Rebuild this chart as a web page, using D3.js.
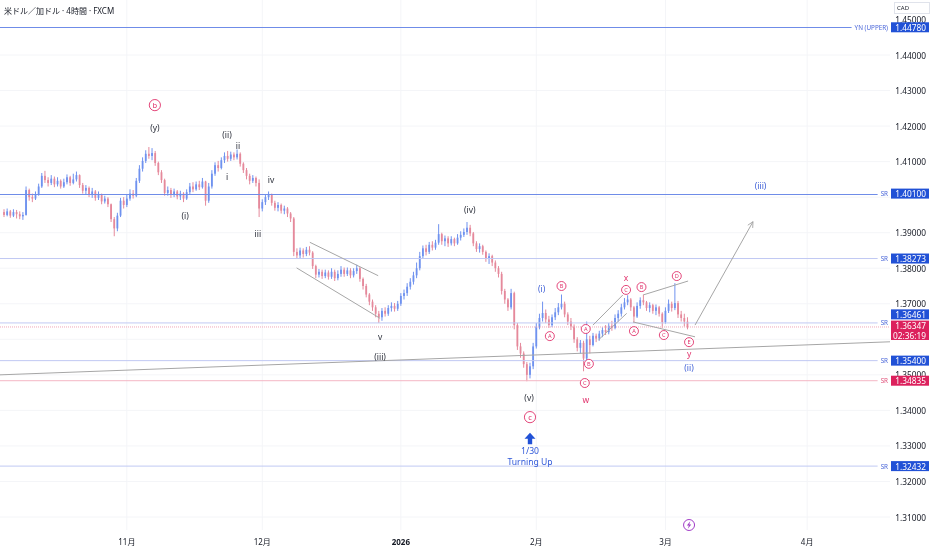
<!DOCTYPE html>
<html>
<head>
<meta charset="utf-8">
<script src="https://cdn.jsdelivr.net/npm/d3@7"></script>
<style>
  body { margin: 0; background: #fff; }
  svg { display: block; font-family: "Noto Sans", "Noto Sans CJK JP", sans-serif; will-change: transform; }
</style>
</head>
<body>
<svg id="chart"></svg>
<script>
// USD/CAD 4h, resampled to one candle per half trading day (bar index 0 = early Oct)
const firstOpen = 1.3958;
const closes = [
  1.3950,1.3960,1.3948,1.3958,1.3952,1.3946,1.3950,1.4020,1.4000,1.3996,
  1.4008,1.4030,1.4060,1.4048,1.4040,1.4052,1.4036,1.4046,1.4030,1.4042,
  1.4056,1.4040,1.4050,1.4062,1.4034,1.4018,1.4026,1.4008,1.4016,1.3998,
  1.4006,1.3988,1.3996,1.3980,1.3938,1.3912,1.3948,1.3990,1.3978,1.3996,
  1.4010,1.4004,1.4046,1.4080,1.4102,1.4122,1.4116,1.4124,1.4096,1.4070,
  1.4048,1.4012,1.4020,1.4006,1.4016,1.4002,1.4010,1.3996,1.4014,1.4030,
  1.4022,1.4036,1.4028,1.4044,1.3990,1.4030,1.4066,1.4090,1.4082,1.4104,
  1.4116,1.4108,1.4120,1.4112,1.4122,1.4094,1.4076,1.4060,1.4046,1.4054,
  1.4040,1.3968,1.3986,1.4000,1.4006,1.3984,1.3970,1.3978,1.3962,1.3968,
  1.3954,1.3940,1.3846,1.3836,1.3850,1.3840,1.3852,1.3844,1.3806,1.3782,
  1.3790,1.3778,1.3788,1.3776,1.3790,1.3772,1.3784,1.3796,1.3784,1.3794,
  1.3780,1.3792,1.3800,1.3770,1.3750,1.3726,1.3706,1.3690,1.3672,1.3662,
  1.3680,1.3672,1.3688,1.3694,1.3686,1.3700,1.3722,1.3730,1.3748,1.3762,
  1.3780,1.3800,1.3834,1.3856,1.3846,1.3866,1.3858,1.3872,1.3896,1.3876,
  1.3884,1.3870,1.3882,1.3870,1.3886,1.3894,1.3902,1.3914,1.3898,1.3870,
  1.3854,1.3862,1.3846,1.3826,1.3834,1.3816,1.3800,1.3784,1.3736,1.3712,
  1.3690,1.3730,1.3640,1.3580,1.3560,1.3530,1.3500,1.3524,1.3580,1.3636,
  1.3660,1.3674,1.3656,1.3640,1.3662,1.3676,1.3690,1.3700,1.3670,1.3650,
  1.3636,1.3600,1.3576,1.3590,1.3546,1.3600,1.3584,1.3610,1.3602,1.3616,
  1.3626,1.3620,1.3638,1.3632,1.3660,1.3672,1.3690,1.3704,1.3712,1.3690,
  1.3664,1.3694,1.3710,1.3704,1.3688,1.3696,1.3680,1.3690,1.3672,1.3648,
  1.3680,1.3700,1.3688,1.3702,1.3670,1.3660,1.3650,1.36347
];
const highs = [
  1.3966,1.3968,1.3964,1.3966,1.3964,1.3960,1.3958,1.4030,1.4024,1.4010,
  1.4016,1.4038,1.4068,1.4074,1.4056,1.4062,1.4058,1.4056,1.4050,1.4052,
  1.4064,1.4060,1.4066,1.4072,1.4064,1.4040,1.4034,1.4030,1.4026,1.4020,
  1.4016,1.4010,1.4004,1.4000,1.3982,1.3944,1.3956,1.3998,1.4000,1.4008,
  1.4022,1.4020,1.4054,1.4090,1.4112,1.4132,1.4141,1.4138,1.4130,1.4100,
  1.4076,1.4052,1.4030,1.4026,1.4024,1.4020,1.4018,1.4014,1.4022,1.4040,
  1.4042,1.4044,1.4046,1.4054,1.4046,1.4040,1.4076,1.4098,1.4102,1.4112,
  1.4126,1.4130,1.4128,1.4126,1.4134,1.4126,1.4098,1.4082,1.4066,1.4062,
  1.4058,1.4050,1.3994,1.4008,1.4016,1.4010,1.3990,1.3986,1.3982,1.3976,
  1.3972,1.3958,1.3944,1.3856,1.3858,1.3856,1.3860,1.3862,1.3848,1.3810,
  1.3798,1.3796,1.3796,1.3794,1.3800,1.3796,1.3794,1.3806,1.3802,1.3802,
  1.3800,1.3800,1.3810,1.3804,1.3774,1.3756,1.3730,1.3712,1.3696,1.3680,
  1.3688,1.3690,1.3696,1.3704,1.3702,1.3708,1.3730,1.3740,1.3758,1.3772,
  1.3790,1.3816,1.3846,1.3864,1.3866,1.3874,1.3876,1.3880,1.3924,1.3900,
  1.3892,1.3890,1.3890,1.3886,1.3896,1.3904,1.3912,1.3930,1.3922,1.3902,
  1.3876,1.3870,1.3866,1.3850,1.3842,1.3838,1.3822,1.3806,1.3790,1.3742,
  1.3716,1.3742,1.3734,1.3646,1.3590,1.3566,1.3536,1.3534,1.3590,1.3646,
  1.3672,1.3706,1.3684,1.3666,1.3670,1.3688,1.3702,1.3726,1.3706,1.3676,
  1.3660,1.3642,1.3606,1.3598,1.3596,1.3650,1.3610,1.3618,1.3616,1.3624,
  1.3634,1.3640,1.3646,1.3652,1.3670,1.3682,1.3700,1.3716,1.3724,1.3716,
  1.3694,1.3704,1.3718,1.3726,1.3708,1.3704,1.3700,1.3698,1.3694,1.3676,
  1.3690,1.3712,1.3706,1.3758,1.3708,1.3680,1.3672,1.3662
];
const lows = [
  1.3944,1.3946,1.3942,1.3944,1.3940,1.3938,1.3936,1.3948,1.3990,1.3986,
  1.3992,1.4004,1.4026,1.4040,1.4030,1.4034,1.4028,1.4030,1.4024,1.4026,
  1.4036,1.4032,1.4036,1.4044,1.4026,1.4010,1.4008,1.4000,1.3998,1.3990,
  1.3992,1.3980,1.3982,1.3972,1.3930,1.3890,1.3904,1.3944,1.3968,1.3972,
  1.3990,1.3996,1.4000,1.4040,1.4072,1.4096,1.4108,1.4104,1.4088,1.4062,
  1.4040,1.4004,1.4004,1.3998,1.4000,1.3994,1.3992,1.3986,1.3992,1.4008,
  1.4014,1.4018,1.4020,1.4024,1.3976,1.3984,1.4024,1.4060,1.4072,1.4078,
  1.4096,1.4100,1.4102,1.4104,1.4106,1.4086,1.4068,1.4050,1.4036,1.4040,
  1.4030,1.3944,1.3960,1.3978,1.3992,1.3976,1.3962,1.3960,1.3954,1.3952,
  1.3944,1.3930,1.3834,1.3826,1.3828,1.3830,1.3834,1.3836,1.3798,1.3772,
  1.3774,1.3770,1.3772,1.3768,1.3770,1.3764,1.3766,1.3776,1.3776,1.3778,
  1.3772,1.3774,1.3784,1.3762,1.3740,1.3718,1.3696,1.3680,1.3662,1.3646,
  1.3652,1.3664,1.3666,1.3678,1.3678,1.3680,1.3694,1.3712,1.3722,1.3740,
  1.3754,1.3772,1.3794,1.3826,1.3836,1.3840,1.3850,1.3852,1.3866,1.3866,
  1.3862,1.3860,1.3864,1.3862,1.3866,1.3878,1.3888,1.3894,1.3890,1.3862,
  1.3846,1.3844,1.3838,1.3818,1.3812,1.3806,1.3790,1.3774,1.3726,1.3700,
  1.3680,1.3684,1.3628,1.3570,1.3548,1.3520,1.3482,1.3490,1.3516,1.3574,
  1.3628,1.3650,1.3646,1.3632,1.3634,1.3654,1.3668,1.3684,1.3662,1.3640,
  1.3626,1.3590,1.3566,1.3560,1.3510,1.3530,1.3560,1.3580,1.3592,1.3596,
  1.3606,1.3612,1.3614,1.3624,1.3628,1.3650,1.3664,1.3684,1.3696,1.3680,
  1.3646,1.3660,1.3686,1.3696,1.3680,1.3676,1.3672,1.3668,1.3664,1.3632,
  1.3644,1.3674,1.3678,1.3682,1.3660,1.3650,1.3636,1.3628
];

const priceTicks = [1.31, 1.32, 1.33, 1.34, 1.35, 1.36, 1.37, 1.38, 1.39, 1.40, 1.41, 1.42, 1.43, 1.44, 1.45];
const monthLabels = ["11月", "12月", "2026", "2月", "3月", "4月"];
const monthBars = [39, 82, 126, 169, 210, 255];

const levelPrices = [1.44780, 1.40100, 1.38273, 1.36461, 1.35400, 1.34835, 1.32432];
const levelNames = ["YN (UPPER)", "SR", "SR", "SR", "SR", "SR", "SR"];
const lastPrice = 1.36347;
const countdown = "02:36:19";

// drawn trendlines: [bar, price, bar, price]
const trendLines = [
  [-1.3, 1.3500, 281.3, 1.3593],
  [97.1, 1.3873, 118.8, 1.3779],
  [92.9, 1.3801, 119.4, 1.3659],
  [187.0, 1.3640, 196.5, 1.3725],
  [188.7, 1.3598, 197.7, 1.3673],
  [203.0, 1.3725, 217.2, 1.3764],
  [199.7, 1.3649, 219.4, 1.3607]
];
const projection = [219.4, 1.3640, 237.8, 1.3931];

// wave labels: [bar, price, text]
const darkLabels = [
  [47.9, 1.4195, "(y)"], [70.8, 1.4175, "(ii)"], [74.3, 1.4144, "ii"], [70.8, 1.4057, "i"],
  [84.8, 1.4051, "iv"], [57.5, 1.3947, "(i)"], [80.6, 1.3899, "iii"], [147.9, 1.3964, "(iv)"],
  [119.4, 1.3607, "v"], [119.4, 1.3553, "(iii)"], [166.7, 1.3435, "(v)"]
];
const bigCircled = [[47.9, 1.4259, "b"], [167.0, 1.3381, "c"]];
const smallCircled = [
  [177.0, 1.3750, "B"], [173.3, 1.3609, "A"], [184.7, 1.3629, "A"], [185.7, 1.3531, "B"],
  [184.4, 1.3477, "C"], [197.5, 1.3739, "C"], [202.4, 1.3747, "B"], [200.0, 1.3623, "A"],
  [209.5, 1.3612, "C"], [213.6, 1.3778, "D"], [217.5, 1.3592, "E"]
];
const pinkLabels = [[184.7, 1.3432, "w"], [197.5, 1.3773, "x"], [217.5, 1.3559, "y"]];
const blueLabels = [[170.7, 1.3742, "(i)"], [217.5, 1.3522, "(ii)"], [240.2, 1.4032, "(iii)"]];
const turnNote = [167.0, 1.3320, "1/30", "Turning Up"];
const eventBar = 217.5;

class WaveChart {

    constructor(_config) {
        this.config = {
            parentElement: _config.parentElement,
            containerWidth: _config.containerWidth || 932,
            containerHeight: _config.containerHeight || 550,
            plotRight: 890,
            plotTop: 55,
            plotBottom: 517
        };
        this.initVis();
    }

    initVis() {
        let vis = this;
        const c = vis.config;

        vis.svg = d3.select(c.parentElement)
            .attr('width', c.containerWidth)
            .attr('height', c.containerHeight);

        vis.xScale = d3.scaleLinear()
            .domain([-1.27, 281.3])
            .range([0, c.plotRight]);

        vis.yScale = d3.scaleLinear()
            .domain([1.31, 1.44])
            .range([c.plotBottom, c.plotTop]);

        vis.bars = closes.map((cl, i) => ({
            i: i,
            o: i ? closes[i - 1] : firstOpen,
            h: highs[i],
            l: lows[i],
            c: cl
        }));

        vis.defs = vis.svg.append('defs');
        vis.defs.append('marker')
            .attr('id', 'head')
            .attr('viewBox', '0 0 10 10')
            .attr('refX', 9).attr('refY', 5)
            .attr('markerWidth', 7).attr('markerHeight', 7)
            .attr('markerUnits', 'userSpaceOnUse')
            .attr('orient', 'auto')
            .append('path')
            .attr('d', 'M1,1 L9,5 L1,9')
            .attr('fill', 'none')
            .attr('stroke', '#a6a6a6')
            .attr('stroke-width', 1.2);

        vis.gridG = vis.svg.append('g');
        vis.candleG = vis.svg.append('g');
        vis.lineG = vis.svg.append('g');
        vis.annoG = vis.svg.append('g').attr('opacity', 0.99);
        vis.axisG = vis.svg.append('g').attr('opacity', 0.99);

        vis.renderVis();
    }

    renderVis() {
        let vis = this;
        const x = vis.xScale, y = vis.yScale, c = vis.config;
        const up = '#6f92ef', down = '#e5899b';
        const blueTag = '#1f4fd6', pinkTag = '#dc1f5c';
        const pink = '#e0306a', blue = '#3d5ed6', dark = '#2a2e39';
        // main levels are drawn pixel-sharp, the rest soft
        const levelStroke = {
            '1.4478': '#6f8ce8', '1.401': '#6f8ce8', '1.34835': '#f4b6c5'
        };
        const sharp = new Set(['1.4478', '1.401']);

        // faint grid
        vis.gridG.selectAll('.hgrid')
            .data(priceTicks.filter(p => p <= 1.44))
            .join('line')
            .attr('x1', 0).attr('x2', c.plotRight)
            .attr('y1', d => y(d)).attr('y2', d => y(d))
            .attr('stroke', '#f4f5f8');
        vis.gridG.selectAll('.vgrid')
            .data(monthBars)
            .join('line')
            .attr('x1', d => x(d)).attr('x2', d => x(d))
            .attr('y1', 0).attr('y2', 530)
            .attr('stroke', '#f4f5f8');

        // candles
        const candle = vis.candleG.selectAll('g.candle')
            .data(vis.bars)
            .join('g')
            .attr('class', 'candle')
            .attr('fill', d => d.c >= d.o ? up : down)
            .attr('stroke', d => d.c >= d.o ? up : down);
        candle.append('line')
            .attr('x1', d => x(d.i)).attr('x2', d => x(d.i))
            .attr('y1', d => y(Math.max(d.h, d.o, d.c)))
            .attr('y2', d => y(Math.min(d.l, d.o, d.c)))
            .attr('stroke-width', 1);
        candle.append('rect')
            .attr('x', d => x(d.i) - 0.9)
            .attr('width', 1.8)
            .attr('y', d => y(Math.max(d.o, d.c)))
            .attr('height', d => Math.max(1, Math.abs(y(d.o) - y(d.c))))
            .attr('stroke', 'none');

        // horizontal levels with their names at the right end
        levelPrices.forEach((p, i) => {
            const key = String(p);
            const stroke = levelStroke[key] || '#c0c9f3';
            const txtColor = p === 1.34835 ? '#e0507a' : '#4a66d9';
            const ly = sharp.has(key) ? Math.round(y(p)) + 0.5 : y(p);
            const t = vis.lineG.append('text')
                .attr('x', c.plotRight - 2)
                .attr('y', y(p))
                .attr('text-anchor', 'end')
                .attr('dominant-baseline', 'central')
                .attr('font-size', 6.3)
                .attr('fill', txtColor)
                .text(levelNames[i]);
            const w = t.node().getComputedTextLength();
            vis.lineG.append('line')
                .attr('x1', 0).attr('x2', c.plotRight - w - 5)
                .attr('y1', ly).attr('y2', ly)
                .attr('stroke', stroke)
                .attr('stroke-width', 1);
        });
        vis.lineG.append('line')
            .attr('x1', 0).attr('x2', c.plotRight)
            .attr('y1', y(lastPrice)).attr('y2', y(lastPrice))
            .attr('stroke', '#f0a7b9')
            .attr('stroke-dasharray', '1,1');

        // trendlines and projection
        vis.lineG.selectAll('.trend')
            .data(trendLines)
            .join('line')
            .attr('x1', d => x(d[0])).attr('y1', d => y(d[1]))
            .attr('x2', d => x(d[2])).attr('y2', d => y(d[3]))
            .attr('stroke', '#a6a6a6')
            .attr('stroke-width', 1);
        vis.lineG.append('line')
            .attr('x1', x(projection[0])).attr('y1', y(projection[1]))
            .attr('x2', x(projection[2])).attr('y2', y(projection[3]))
            .attr('stroke', '#a6a6a6')
            .attr('stroke-width', 1)
            .attr('marker-end', 'url(#head)');

        // wave labels
        const addText = (data, color, size) => vis.annoG.selectAll(null)
            .data(data)
            .join('text')
            .attr('x', d => x(d[0]))
            .attr('y', d => y(d[1]))
            .attr('text-anchor', 'middle')
            .attr('dominant-baseline', 'central')
            .attr('font-size', size)
            .attr('fill', color)
            .text(d => d[2]);
        addText(darkLabels, dark, 8.5);
        addText(pinkLabels, pink, 8.5);
        addText(blueLabels, blue, 8.5);

        const addCircled = (data, r, size) => {
            const g = vis.annoG.selectAll(null)
                .data(data)
                .join('g')
                .attr('transform', d => `translate(${x(d[0])},${y(d[1])})`);
            g.append('circle')
                .attr('r', r)
                .attr('fill', '#fff')
                .attr('stroke', pink)
                .attr('stroke-width', 0.9);
            g.append('text')
                .attr('text-anchor', 'middle')
                .attr('dominant-baseline', 'central')
                .attr('font-size', size)
                .attr('fill', pink)
                .text(d => d[2]);
        };
        addCircled(bigCircled, 5.6, 7.5);
        addCircled(smallCircled, 4.5, 5.6);

        // "Turning Up" note
        const tn = vis.annoG.append('g')
            .attr('transform', `translate(${x(turnNote[0])},${y(turnNote[1])})`);
        tn.append('path')
            .attr('d', 'M0,-6 L5.5,0 L2.2,0 L2.2,5.5 L-2.2,5.5 L-2.2,0 L-5.5,0 Z')
            .attr('fill', blueTag);
        tn.append('text')
            .attr('y', 12)
            .attr('text-anchor', 'middle')
            .attr('dominant-baseline', 'central')
            .attr('font-size', 8.6)
            .attr('fill', '#2c55d8')
            .text(turnNote[2]);
        tn.append('text')
            .attr('y', 22.8)
            .attr('text-anchor', 'middle')
            .attr('dominant-baseline', 'central')
            .attr('font-size', 8.6)
            .attr('fill', '#2c55d8')
            .text(turnNote[3]);

        // event marker on the time axis
        const ev = vis.annoG.append('g')
            .attr('transform', `translate(${x(eventBar)},525)`);
        ev.append('circle')
            .attr('r', 5.5)
            .attr('fill', '#fff')
            .attr('stroke', '#a03bc6')
            .attr('stroke-width', 1);
        ev.append('path')
            .attr('d', 'M1.2,-3.8 L-2.2,0.6 L-0.2,0.6 L-1.2,3.8 L2.2,-0.6 L0.2,-0.6 Z')
            .attr('fill', '#a03bc6');

        // title
        vis.axisG.append('text')
            .attr('x', 4).attr('y', 10)
            .attr('dominant-baseline', 'central')
            .attr('font-size', 8)
            .attr('fill', '#131722')
            .text('米ドル／加ドル · 4時間 · FXCM');

        // time axis labels
        vis.axisG.selectAll('.month')
            .data(monthLabels)
            .join('text')
            .attr('x', (d, i) => x(monthBars[i]))
            .attr('y', 541)
            .attr('text-anchor', 'middle')
            .attr('dominant-baseline', 'central')
            .attr('font-size', 8)
            .attr('font-weight', d => d === '2026' ? 700 : 400)
            .attr('fill', '#131722')
            .text(d => d);

        // price tags: current price first, other tags pushed above it if they collide
        const cur = { top: y(lastPrice) - 6.4, bottom: y(lastPrice) + 13 };
        const tags = levelPrices.map((p, i) => {
            let top = y(p) - 5, bottom = y(p) + 5;
            if (top < cur.bottom && bottom > cur.top) {
                bottom = cur.top - 1.2;
                top = bottom - 10;
            }
            return { p: p, top: top, bottom: bottom, color: p === 1.34835 ? pinkTag : blueTag };
        });

        const hidden = d => tags.some(t => Math.abs(y(d) - (t.top + t.bottom) / 2) < 5) ||
            (y(d) > cur.top - 3 && y(d) < cur.bottom + 4);
        vis.axisG.selectAll('.tick')
            .data(priceTicks.filter(p => !hidden(p)))
            .join('text')
            .attr('x', 926)
            .attr('y', d => y(d))
            .attr('text-anchor', 'end')
            .attr('dominant-baseline', 'central')
            .attr('font-size', 8.3)
            .attr('fill', '#131722')
            .text(d => d3.format('.5f')(d));

        const tagG = vis.axisG.selectAll('.tag')
            .data(tags)
            .join('g');
        tagG.append('rect')
            .attr('x', 891).attr('width', 38)
            .attr('y', d => d.top)
            .attr('height', d => d.bottom - d.top)
            .attr('fill', d => d.color);
        tagG.append('text')
            .attr('x', 926)
            .attr('y', d => (d.top + d.bottom) / 2)
            .attr('text-anchor', 'end')
            .attr('dominant-baseline', 'central')
            .attr('font-size', 8.3)
            .attr('fill', '#fff')
            .text(d => d3.format('.5f')(d.p));

        vis.axisG.append('rect')
            .attr('x', 891).attr('width', 38)
            .attr('y', cur.top)
            .attr('height', cur.bottom - cur.top)
            .attr('fill', pinkTag);
        vis.axisG.append('text')
            .attr('x', 926).attr('y', y(lastPrice) - 1)
            .attr('text-anchor', 'end')
            .attr('dominant-baseline', 'central')
            .attr('font-size', 8.3)
            .attr('fill', '#fff')
            .text(d3.format('.5f')(lastPrice));
        vis.axisG.append('text')
            .attr('x', 926).attr('y', y(lastPrice) + 8.5)
            .attr('text-anchor', 'end')
            .attr('dominant-baseline', 'central')
            .attr('font-size', 8.3)
            .attr('fill', '#fff')
            .text(countdown);

        // currency box
        vis.axisG.append('rect')
            .attr('x', 894.5).attr('y', 2.5)
            .attr('width', 35).attr('height', 11)
            .attr('fill', '#fff')
            .attr('stroke', '#e0e3eb');
        vis.axisG.append('text')
            .attr('x', 897).attr('y', 8)
            .attr('dominant-baseline', 'central')
            .attr('font-size', 6)
            .attr('fill', '#131722')
            .text('CAD');
    }
}

new WaveChart({ parentElement: '#chart' });
</script>
</body>
</html>
